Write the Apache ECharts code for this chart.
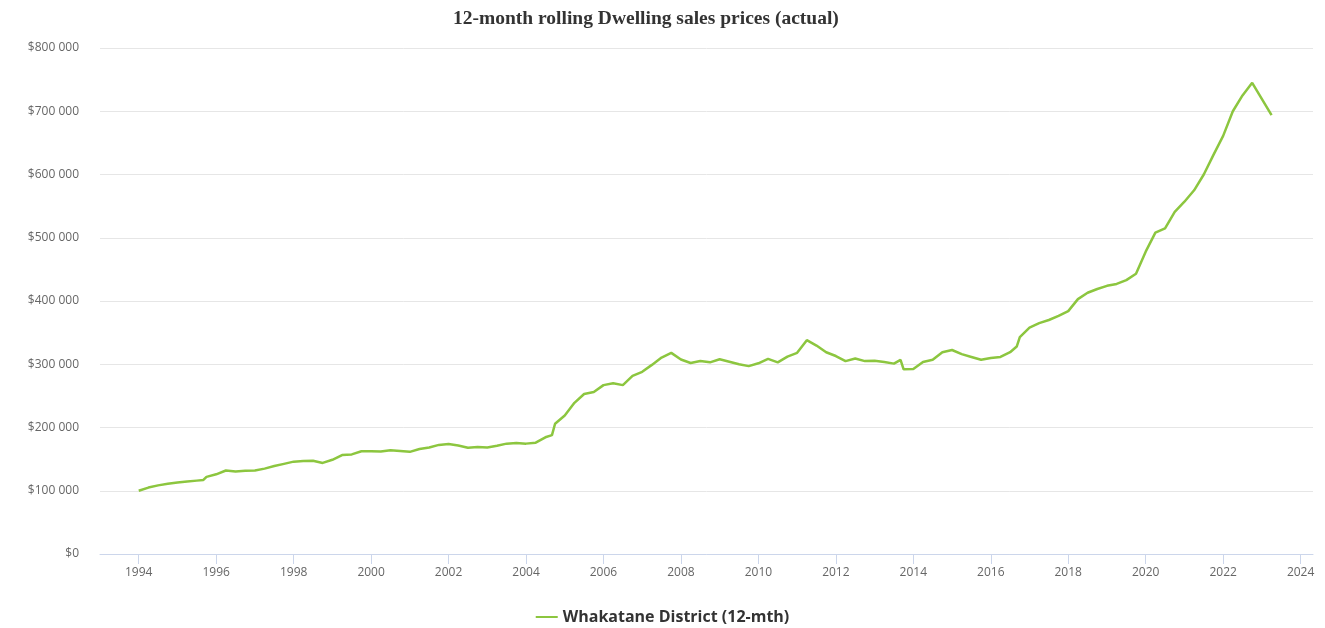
<!DOCTYPE html>
<html>
<head>
<meta charset="utf-8">
<script src="https://cdn.jsdelivr.net/npm/echarts@6/dist/echarts.min.js"></script>
<style>
html,body{margin:0;padding:0;background:#fff;}
#chart{width:1325px;height:628px;}
</style>
</head>
<body>
<div id="chart"></div>
<script>
var chartTitle = '12-month rolling Dwelling sales prices (actual)';
var seriesName = 'Whakatane District (12-mth)';
var xTickYears = [1994,1996,1998,2000,2002,2004,2006,2008,2010,2012,2014,2016,2018,2020,2022,2024];
var yTicks = [0,100000,200000,300000,400000,500000,600000,700000,800000];

var years = [
1994.00,1994.25,1994.50,1994.75,1995.00,1995.25,1995.50,1995.67,1995.75,
1996.00,1996.25,1996.50,1996.75,1997.00,1997.25,1997.50,1997.75,
1998.00,1998.25,1998.50,1998.75,1999.00,1999.25,1999.50,1999.75,
2000.00,2000.25,2000.50,2000.75,2001.00,2001.25,2001.50,2001.75,
2002.00,2002.25,2002.50,2002.75,2003.00,2003.25,2003.50,2003.75,
2004.00,2004.25,2004.50,2004.67,2004.75,2005.00,2005.25,2005.50,2005.75,
2006.00,2006.25,2006.50,2006.75,2007.00,2007.25,2007.50,2007.75,
2008.00,2008.25,2008.50,2008.75,2009.00,2009.25,2009.50,2009.75,
2010.00,2010.25,2010.50,2010.75,2011.00,2011.25,2011.50,2011.75,
2012.00,2012.25,2012.50,2012.75,2013.00,2013.25,2013.50,2013.67,2013.75,
2014.00,2014.25,2014.50,2014.75,2015.00,2015.25,2015.50,2015.75,
2016.00,2016.25,2016.50,2016.67,2016.75,2017.00,2017.25,2017.50,2017.75,
2018.00,2018.25,2018.50,2018.75,2019.00,2019.25,2019.50,2019.75,
2020.00,2020.25,2020.50,2020.75,2021.00,2021.25,2021.50,2021.75,
2022.00,2022.25,2022.50,2022.75,2023.25
];
var prices = [
100000,105000,108500,111000,113000,114500,116000,117000,122000,
126000,132000,130500,131500,132000,135000,139000,142500,
146000,147000,147500,144000,149000,156500,157500,162500,
162500,162000,164000,163000,161500,166000,168500,172500,
174000,171500,168000,169000,168500,171000,174500,175500,
174500,176000,184500,188000,206000,219000,239000,253000,256000,
267000,270000,267000,281500,288000,299000,310500,318000,
307500,302000,305000,303000,308000,304000,300000,297000,
301500,308500,303000,312000,318000,338000,329500,319000,
313000,305000,309000,305000,305500,303500,301000,307000,292000,
292500,303500,307000,319000,322500,316000,311500,307000,
310000,311500,319000,328000,343000,358000,365000,370000,376500,
384000,403000,413000,419000,424000,427000,433000,443000,
478000,508000,515000,541000,557000,575000,600000,631000,
661000,700000,725000,745000,694000
];

var seriesData = years.map(function(y, i){ return [y, prices[i]]; });

function fmtMoney(v){
  var s = String(Math.round(v));
  return '$' + s.replace(/\B(?=(\d{3})+(?!\d))/g, ' ');
}

var chart = echarts.init(document.getElementById('chart'), null, {renderer:'canvas'});
chart.setOption({
  animation: false,
  backgroundColor: '#ffffff',
  title: {
    text: chartTitle,
    left: 448,
    top: 4,
    textStyle: {
      fontFamily: 'Liberation Serif, DejaVu Serif, serif',
      fontWeight: 'bold',
      fontSize: 19.5,
      color: '#333333'
    }
  },
  legend: {
    bottom: -2,
    left: 'center',
    icon: 'rect',
    itemWidth: 22,
    itemHeight: 2,
    itemGap: 7,
    textStyle: {
      fontFamily: 'Open Sans, DejaVu Sans, sans-serif',
      fontWeight: 'bold',
      fontSize: 16,
      color: '#333333'
    },
    data: [seriesName]
  },
  grid: {
    left: 100,
    right: 12,
    top: 48,
    bottom: 74,
    containLabel: false
  },
  xAxis: {
    type: 'value',
    min: 1993,
    max: 2024.32,
    axisLine: { show: true, lineStyle: { color: '#ccd6eb', width: 1 } },
    axisTick: { show: true, length: 10, lineStyle: { color: '#ccd6eb' }, customValues: xTickYears },
    axisLabel: {
      color: '#666666',
      fontSize: 12,
      fontFamily: 'Open Sans, DejaVu Sans, sans-serif',
      margin: 13,
      customValues: xTickYears,
      formatter: function(v){ return String(Math.round(v)); }
    },
    splitLine: { show: false }
  },
  yAxis: {
    type: 'value',
    min: 0,
    max: 800000,
    interval: 100000,
    axisLine: { show: false },
    axisTick: { show: false },
    axisLabel: {
      color: '#666666',
      fontSize: 12,
      fontFamily: 'Open Sans, DejaVu Sans, sans-serif',
      margin: 21,
      formatter: function(v){ return fmtMoney(v); }
    },
    splitLine: { show: true, lineStyle: { color: '#e6e6e6', width: 1 } }
  },
  series: [{
    name: seriesName,
    type: 'line',
    data: seriesData,
    showSymbol: false,
    symbol: 'none',
    lineStyle: { color: '#8cc63f', width: 2.5 },
    itemStyle: { color: '#8cc63f' },
    smooth: false
  }]
});
</script>
</body>
</html>
